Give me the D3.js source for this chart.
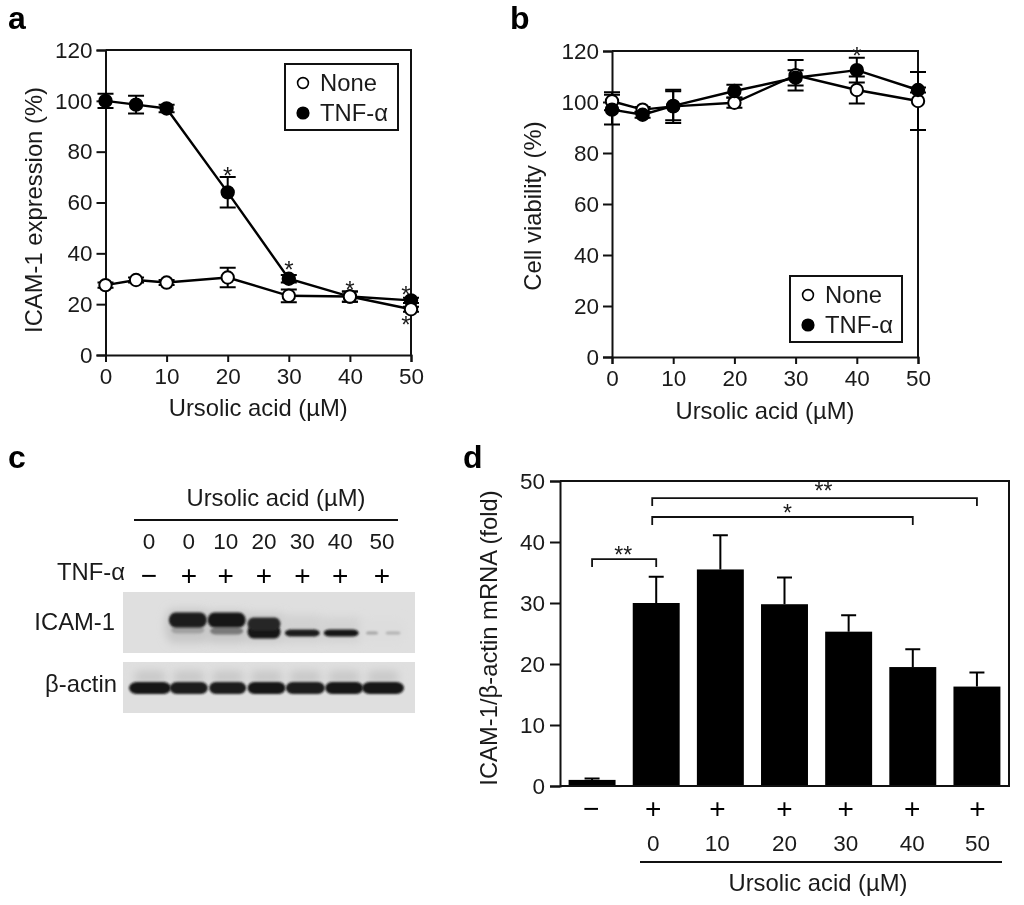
<!DOCTYPE html>
<html><head><meta charset="utf-8">
<script src="https://cdn.jsdelivr.net/npm/d3@7"></script>
<style>
html,body{margin:0;padding:0;background:#fff}
svg{display:block;filter:blur(.4px)}
text{font-family:"Liberation Sans",Arial,sans-serif;fill:#1a1a1a}
</style></head><body><svg id="c" width="1024" height="905"></svg>
<script>
// ---- data ----
const doses=[0,5,10,20,30,40,50];
const aNone=[27.5,29.5,28.5,30.5,23.3,23,18];
const aNoneErr=[1,1,1,3.8,2.5,2,1];
const aTnf=[100,98.5,97,64,30,23,21.5];
const aTnfErr=[2.8,3.5,1.5,6,1.5,2,1];
const aStarsTop=[[20,73.2],[30,36.2],[40,28.3],[50,26.4]];
const aStarsBottom=[[50,14.6]];
const bNone=[100.3,97,98.3,99.7,110.5,104.7,100.4];
const bNoneErr=[3.5,1,6.5,2,6,5.3,11.4];
const bTnf=[97,95,98.5,104.3,109.5,112.5,104.7];
const bTnfErr=[5.8,1.2,5.7,2.5,3,4.9,1];
const bStars=[[40,120.8]];
const yTicksLine=[0,20,40,60,80,100,120];
const xTicksLine=[0,10,20,30,40,50];
const seriesNames=["None","TNF-α"];
const xTitle="Ursolic acid (µM)";
const dCats=["−","0","10","20","30","40","50"];
const dVals=[1,30,35.5,29.8,25.3,19.5,16.3];
const dErr=[.25,4.3,5.6,4.4,2.7,2.9,2.3];
const dTicks=[0,10,20,30,40,50];
const dBrackets=[[0,1,37.2,"**"],[1,5,44.1,"*"],[1,6,47.2,"**"]];
const blotLabels=["0","0","10","20","30","40","50"];
const blotTnf=["−","+","+","+","+","+","+"];
const icamUpper=[0,.97,1,.9,0,0,0];
const icamLower=[0,.3,.5,1,.95,1,0];
const icamFaint=[0,0,0,0,0,0,.22];
const icamHalo=[0,.6,.6,.5,.35,.3,.05];
const actin=[1,.97,.97,1,.97,1,.98];

const FS=22.5, TS=23.8;
const svg=d3.select("#c");
const defs=svg.append("defs");
defs.append("filter").attr("id","b1").attr("x","-20%").attr("y","-60%").attr("width","140%").attr("height","220%")
  .append("feGaussianBlur").attr("stdDeviation",1.3);
defs.append("filter").attr("id","b2").attr("x","-40%").attr("y","-100%").attr("width","180%").attr("height","300%")
  .append("feGaussianBlur").attr("stdDeviation",4);
const INK="#111";
function letter(t,x,y){svg.append("text").attr("x",x).attr("y",y).attr("font-size",32).attr("font-weight","bold").style("fill","#000").text(t)}
letter("a",8,29);letter("b",510,29);letter("c",8,468);letter("d",463,468);

function linePanel(o){
  const x=d3.scaleLinear().domain([0,50]).range([o.l,o.r]);
  const y=d3.scaleLinear().domain([0,120]).range([o.b,o.t]);
  const g=svg.append("g");
  const ya=g.append("g").attr("transform",`translate(${o.l},0)`).call(d3.axisLeft(y).tickValues(yTicksLine).tickSize(9).tickPadding(4));
  const xa=g.append("g").attr("transform",`translate(0,${o.b})`).call(d3.axisBottom(x).tickValues(xTicksLine).tickSize(7).tickPadding(6));
  [ya,xa].forEach(a=>{a.select(".domain").attr("stroke",INK).attr("stroke-width",2);a.selectAll("line").attr("stroke",INK).attr("stroke-width",2);a.selectAll("text").attr("font-size",FS).style("fill","#1a1a1a")});
  g.append("path").attr("d",`M${o.l},${o.t}H${o.r}V${o.b}`).attr("fill","none").attr("stroke",INK).attr("stroke-width",2);
  const ln=d3.line().x((d,i)=>x(doses[i])).y(d=>y(d));
  const series=[[o.tnf,o.tnfErr,"#000"],[o.none,o.noneErr,"#fff"]];
  if(o.noneOnTop===false) series.reverse();
  series.forEach(([v,e])=>{
    doses.forEach((d,i)=>{
      const X=x(d),a=y(v[i]+e[i]),b=y(v[i]-e[i]);
      g.append("path").attr("d",`M${X-8},${a}H${X+8}M${X},${a}V${b}M${X-8},${b}H${X+8}`).attr("fill","none").attr("stroke","#000").attr("stroke-width",2);
    });
    g.append("path").attr("d",ln(v)).attr("fill","none").attr("stroke","#000").attr("stroke-width",2.4);
  });
  series.forEach(([v,e,c])=>{
    g.selectAll(null).data(v).join("circle").attr("cx",(d,i)=>x(doses[i])).attr("cy",d=>y(d)).attr("r",6.2)
     .attr("fill",c).attr("stroke","#000").attr("stroke-width",2);
  });
  o.stars.forEach(([d,v,dx])=>{
    g.append("text").attr("x",x(d)+(dx||0)).attr("y",y(v)).attr("dy",".62em").attr("text-anchor","middle").attr("font-size",24).text("*");
  });
  svg.append("text").attr("transform",`translate(${o.ytx},${o.ytc}) rotate(-90)`).attr("text-anchor","middle").attr("font-size",TS).text(o.ytitle);
  svg.append("text").attr("x",(o.l+o.r)/2).attr("y",o.xty).attr("text-anchor","middle").attr("font-size",TS).text(xTitle);
  const L=o.legend;
  svg.append("rect").attr("x",L.x).attr("y",L.y).attr("width",L.w).attr("height",L.h).attr("fill","#fff").attr("stroke",INK).attr("stroke-width",2);
  seriesNames.forEach((n,i)=>{
    const cy=L.y+19+i*30;
    svg.append("circle").attr("cx",L.x+18).attr("cy",cy).attr("r",i?5.8:5.4).attr("fill",i?"#000":"#fff").attr("stroke","#000").attr("stroke-width",1.6);
    svg.append("text").attr("x",L.x+35).attr("y",cy+8).attr("font-size",TS).text(n);
  });
}
linePanel({l:105.5,r:411,t:50,b:355,none:aNone,noneErr:aNoneErr,tnf:aTnf,tnfErr:aTnfErr,
  stars:[...aStarsTop.map(s=>[s[0],s[1],s[0]==50?-5:0]),...aStarsBottom.map(s=>[s[0],s[1],-5])],
  ytitle:"ICAM-1 expression (%)",ytx:42,ytc:210,xty:416,legend:{x:285,y:64,w:113,h:66}});
linePanel({l:612,r:918,t:51,b:357,none:bNone,noneErr:bNoneErr,tnf:bTnf,tnfErr:bTnfErr,noneOnTop:false,
  stars:bStars,ytitle:"Cell viability (%)",ytx:541,ytc:206,xty:419,legend:{x:790,y:276,w:112,h:66}});

// ---- panel d ----
(function(){
  const l=560,r=1009,t=481,b=786;
  const x=d3.scaleBand().domain(d3.range(dCats.length)).range([l,r]).paddingInner(.268).paddingOuter(.134);
  const y=d3.scaleLinear().domain([0,50]).range([b,t]);
  const g=svg.append("g");
  const cx=i=>x(i)+x.bandwidth()/2;
  const labelShift=[-1,-3,-3,0,-3,-0.5,0.5];
  dVals.forEach((v,i)=>{
    g.append("path").attr("d",`M${cx(i)-7.5},${y(v+dErr[i])}H${cx(i)+7.5}M${cx(i)},${y(v+dErr[i])}V${y(v)}`).attr("stroke","#000").attr("stroke-width",2).attr("fill","none");
  });
  g.selectAll("rect").data(dVals).join("rect").attr("x",(d,i)=>x(i)).attr("width",x.bandwidth()).attr("y",d=>y(d)).attr("height",d=>b-y(d)).attr("fill","#000");
  const ya=g.append("g").attr("transform",`translate(${l},0)`).call(d3.axisLeft(y).tickValues(dTicks).tickSize(10).tickPadding(5));
  ya.select(".domain").attr("stroke",INK).attr("stroke-width",2);ya.selectAll("line").attr("stroke",INK).attr("stroke-width",2);ya.selectAll("text").attr("font-size",FS).style("fill","#1a1a1a");
  g.append("path").attr("d",`M${l},${t}H${r}V${b}H${l}`).attr("fill","none").attr("stroke",INK).attr("stroke-width",2);
  dCats.forEach((c,i)=>{
    g.append("text").attr("x",cx(i)+labelShift[i]).attr("y",818).attr("text-anchor","middle").attr("font-size",28).style("fill","#000").text(i==0?"−":"+");
    if(i>0) g.append("text").attr("x",cx(i)+labelShift[i]).attr("y",851).attr("text-anchor","middle").attr("font-size",FS).text(c);
  });
  g.append("line").attr("x1",640).attr("x2",1002).attr("y1",862).attr("y2",862).attr("stroke",INK).attr("stroke-width",2);
  g.append("text").attr("x",818).attr("y",891).attr("text-anchor","middle").attr("font-size",TS).text(xTitle);
  svg.append("text").attr("transform","translate(497,638) rotate(-90)").attr("text-anchor","middle").attr("font-size",TS).text("ICAM-1/β-actin mRNA (fold)");
  const starShift=[-1,5,9], starLift=[10,10,13];
  dBrackets.forEach(([a,c,v,s],k)=>{
    const x1=cx(a)-(k?4:0),x2=cx(c);
    g.append("path").attr("d",`M${x1},${y(v)+8}V${y(v)}H${x2}V${y(v)+8}`).attr("fill","none").attr("stroke",INK).attr("stroke-width",1.8);
    g.append("text").attr("x",(x1+x2)/2+starShift[k]).attr("y",y(v)-starLift[k]).attr("dy",".62em").attr("text-anchor","middle").attr("font-size",23).text(s);
  });
})();

// ---- panel c ----
(function(){
  const lane=d3.scaleLinear().domain([0,6]).range([149,382]);
  const labelShift=[0,1,-1,-1.5,-2,-3,0];
  const icamShift=[0,0,0,-1.5,-2,-2,1];
  const icamWidth=[0,38,38,33,35,35,37];
  const actinWidth=[42,38,37,38,39,38,42];
  const shade=d3.scaleLinear().domain([0,1]).range(["#dfdfdf","#141414"]);
  svg.append("text").attr("x",276).attr("y",506).attr("text-anchor","middle").attr("font-size",TS).text(xTitle);
  svg.append("line").attr("x1",134).attr("x2",398).attr("y1",520).attr("y2",520).attr("stroke",INK).attr("stroke-width",2);
  blotLabels.forEach((t,i)=>{
    svg.append("text").attr("x",lane(i)+labelShift[i]).attr("y",549).attr("text-anchor","middle").attr("font-size",FS).text(t);
    svg.append("text").attr("x",lane(i)+labelShift[i]).attr("y",585).attr("text-anchor","middle").attr("font-size",28).style("fill","#000").text(blotTnf[i]);
  });
  svg.append("text").attr("x",125).attr("y",580).attr("text-anchor","end").attr("font-size",TS).text("TNF-α");
  svg.append("text").attr("x",115).attr("y",630).attr("text-anchor","end").attr("font-size",TS).text("ICAM-1");
  svg.append("text").attr("x",117).attr("y",692).attr("text-anchor","end").attr("font-size",TS).text("β-actin");
  const clip=(id,x,y,w,h)=>{defs.append("clipPath").attr("id",id).append("rect").attr("x",x).attr("y",y).attr("width",w).attr("height",h)};
  clip("p1",123,592,292,61);clip("p2",123,662,292,51);
  const g1=svg.append("g").attr("clip-path","url(#p1)");
  const g2=svg.append("g").attr("clip-path","url(#p2)");
  g1.append("rect").attr("x",123).attr("y",592).attr("width",292).attr("height",61).attr("fill","#dfdfdf");
  g2.append("rect").attr("x",123).attr("y",662).attr("width",292).attr("height",51).attr("fill","#dfdfdf");
  const band=(g,X,cy,h,v,f,w)=>{ if(v<=0) return;
    g.append("rect").attr("x",X-w/2).attr("width",w).attr("y",cy-h/2).attr("height",h).attr("rx",w*.18).attr("ry",h/2)
     .attr("fill",shade(v)).attr("filter",`url(#${f})`);};
  const ix=i=>lane(i)+icamShift[i];
  icamHalo.forEach((v,i)=>band(g1,ix(i),625+i,36-i*2,v*.2,"b2",46));
  icamLower.forEach((v,i)=>{
    const cy=i<3?(i==2?631:630):(i==3?632:633);
    band(g1,ix(i),cy,i==3?13:(i<3?7:7),v,"b1",icamWidth[i]-(i<3?5:0));
  });
  icamFaint.forEach((v,i)=>{band(g1,ix(i)-11,633,3,v*1.3,"b1",12);band(g1,ix(i)+10,633,3,v,"b1",15);});
  icamUpper.forEach((v,i)=>band(g1,ix(i),i==3?624:620,i==3?13:15,v,"b1",icamWidth[i]));
  actin.forEach((v,i)=>band(g2,lane(i)+1,677,12,.12,"b2",32));
  actin.forEach((v,i)=>band(g2,lane(i)+1,688,12,v,"b1",actinWidth[i]));
})();
</script></body></html>
